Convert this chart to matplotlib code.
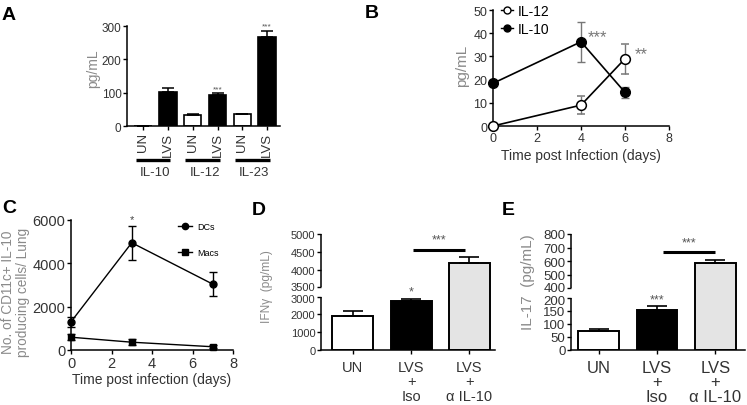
import numpy as np
import matplotlib
matplotlib.use('Agg')
import matplotlib.pyplot as plt
import matplotlib.transforms as mtransforms
from matplotlib.lines import Line2D

W, H = 747, 406

plt.rcParams.update({
    'font.family': ['Liberation Sans', 'DejaVu Sans'],
    'axes.linewidth': 1.1,
    'xtick.major.width': 1.0,
    'ytick.major.width': 1.0,
    'xtick.major.size': 3,
    'ytick.major.size': 3,
    'xtick.major.pad': 1.5,
    'ytick.major.pad': 1.0,
    'xtick.labelcolor': '#333333',
    'ytick.labelcolor': '#333333',
    'axes.labelcolor': '#333333',
})

GRAY = '#8a8a8a'

# ── Data ──
# A: cytokines in supernatant
a_ticks = ['UN', 'LVS', 'UN', 'LVS', 'UN', 'LVS']
a_groups = ['IL-10', 'IL-12', 'IL-23']
a_vals = [0, 103, 33, 94, 35, 266]
a_err = [0, 10, 2, 4, 2, 20]

# B: time course
b_days = [0, 4, 6]
b_il12 = [0, 9, 29]
b_il12_err = [0, 3.8, 6.5]
b_il10 = [18.4, 36.3, 14.5]
b_il10_err = [0, 8.6, 2.3]

# C: IL-10 producing cells
c_days = [0, 3, 7]
c_dcs = [1300, 4950, 3040]
c_dcs_err = [230, 780, 570]
c_macs = [590, 360, 150]
c_macs_err = [150, 130, 70]

# D / E: anti IL-10 treatment
de_labels = ['UN', 'LVS\n+\nIso', 'LVS\n+\n\u03b1 IL-10']
d_vals = [1930, 2740, 4175]
d_err = [245, 110, 170]
e_vals = [72, 154, 589]
e_err = [9, 13, 19]
bar_colors = ['white', 'black', '#e4e4e4']

fig = plt.figure(figsize=(W / 100, H / 100), dpi=100)


def add_ax(x0, ytop, x1, ybot):
    ax = fig.add_axes([x0 / W, 1 - ybot / H, (x1 - x0) / W, (ybot - ytop) / H])
    ax.spines['top'].set_visible(False)
    ax.spines['right'].set_visible(False)
    return ax


def ftext(x, y, s, **kw):
    fig.text(x / W, 1 - y / H, s, **kw)


# ── Panel A ──
axA = add_ax(127, 27, 280, 127)
xa = np.arange(len(a_vals))
axA.bar(xa, a_vals, width=0.7, color=['white', 'black'] * 3,
        edgecolor='black', linewidth=1.2)
axA.errorbar(xa, a_vals, yerr=[np.zeros(len(a_vals)), a_err], fmt='none',
             ecolor='black', elinewidth=1.1, capsize=4.4, capthick=1.1)
axA.set_xlim(-0.65, 5.52)
axA.set_ylim(0, 300)
axA.set_yticks([0, 100, 200, 300])
axA.tick_params(axis='y', labelsize=8.5)
axA.set_xticks(xa)
axA.set_xticklabels(a_ticks, rotation=90, fontsize=9.5)
tr = axA.get_xaxis_transform()
for i, g in enumerate(a_groups):
    axA.plot([2 * i - 0.3, 2 * i + 1.1], [-0.337, -0.337], transform=tr,
             color='black', lw=2.4, clip_on=False, solid_capstyle='butt')
    axA.text(2 * i + 0.48, -0.46, g, transform=tr, ha='center', va='center',
             fontsize=9.5, color='#333333')
for i in [3, 5]:
    axA.text(i, a_vals[i] + a_err[i] + 4, '***', ha='center', va='bottom',
             fontsize=6, color='#555555')
ftext(93, 69, 'pg/mL', rotation=90, ha='center', va='center',
      fontsize=10, color=GRAY)
ftext(2, 20, 'A', fontsize=14, fontweight='bold', va='baseline')

# ── Panel B ──
axB = add_ax(493, 11, 669, 127)
axB.errorbar(b_days, b_il12, yerr=b_il12_err, color='black', lw=1.2,
             marker='o', ms=7, mfc='white', mec='black', mew=1.1,
             ecolor='#777777', elinewidth=1.0, capsize=3.2, clip_on=False,
             zorder=3)
axB.errorbar(b_days, b_il10, yerr=b_il10_err, color='black', lw=1.2,
             marker='o', ms=7, mfc='black', mec='black',
             ecolor='#777777', elinewidth=1.0, capsize=3.2, clip_on=False,
             zorder=3)
axB.set_xlim(0, 8)
axB.set_ylim(0, 50)
axB.set_xticks([0, 2, 4, 6, 8])
axB.set_yticks([0, 10, 20, 30, 40, 50])
axB.tick_params(labelsize=9)
axB.text(4.3, 38.5, '***', fontsize=12, color='#777777', va='center')
axB.text(6.42, 31, '**', fontsize=12, color='#777777', va='center')
hB = [Line2D([], [], color='black', lw=1.0, marker='o', ms=5, mfc='white',
             mec='black'),
      Line2D([], [], color='black', lw=1.0, marker='o', ms=5, mfc='black')]
axB.legend(hB, ['IL-12', 'IL-10'], loc='upper left', bbox_to_anchor=(0.045, 1.055),
           frameon=False, fontsize=10, handlelength=0.9, handletextpad=0.3,
           labelspacing=0.3, borderaxespad=0, borderpad=0)
axB.set_xlabel('Time post Infection (days)', fontsize=10, labelpad=3)
ftext(462, 66, 'pg/mL', rotation=90, ha='center', va='center',
      fontsize=11, color=GRAY)
ftext(365, 18, 'B', fontsize=14, fontweight='bold', va='baseline')

# ── Panel C ──
axC = add_ax(71, 221, 233, 351)
axC.errorbar(c_days, c_dcs, yerr=c_dcs_err, color='black', lw=1.0,
             marker='o', ms=5, ecolor='black', elinewidth=1.0, capsize=3,
             clip_on=False, zorder=3)
axC.errorbar(c_days, c_macs, yerr=c_macs_err, color='black', lw=1.0,
             marker='s', ms=5, ecolor='black', elinewidth=1.0, capsize=3,
             clip_on=False, zorder=3)
axC.set_xlim(0, 8)
axC.set_ylim(0, 6000)
axC.set_xticks([0, 2, 4, 6, 8])
axC.set_yticks([0, 2000, 4000, 6000])
axC.tick_params(labelsize=10.5)
axC.text(3, 6050, '*', ha='center', va='center', fontsize=8, color='#444444')
hC = [Line2D([], [], color='black', lw=1.0, marker='o', ms=4.5),
      Line2D([], [], color='black', lw=1.0, marker='s', ms=4.5)]
axC.legend(hC, ['DCs', 'Macs'], loc='upper left', bbox_to_anchor=(0.66, 0.985),
           frameon=False, fontsize=6.5, handlelength=1.6, handletextpad=0.5,
           labelspacing=1.9, borderaxespad=0, borderpad=0)
axC.set_xlabel('Time post infection (days)', fontsize=10, labelpad=1)
ftext(15.5, 292, 'No. of CD11c+ IL-10\nproducing cells/ Lung', rotation=90,
      ha='center', va='center', fontsize=9.8, color=GRAY, linespacing=1.05)
ftext(2, 213, 'C', fontsize=14, fontweight='bold', va='baseline')


# ── Broken-axis bar panels (D, E) ──
def broken_bars(ax, vals, err, yb, pb, lo_top, hi_bot, hi_top, yticks):
    fwd = lambda y: np.interp(y, yb, pb)
    inv = lambda p: np.interp(p, pb, yb)
    ax.set_yscale('function', functions=(fwd, inv))
    x = np.arange(len(vals))
    ax.bar(x, vals, width=0.7, color=bar_colors, edgecolor='black',
           linewidth=1.4)
    ax.errorbar(x, vals, yerr=[np.zeros(len(vals)), err], fmt='none',
                ecolor='black', elinewidth=1.2, capsize=7.5, capthick=1.2)
    ax.set_ylim(0, hi_top)
    ax.set_yticks(yticks)
    ax.set_xticks(x)
    ax.spines['left'].set_visible(False)
    yt = ax.get_yaxis_transform()
    for seg in [(0, lo_top), (hi_bot, hi_top)]:
        ax.plot([0, 0], seg, transform=yt, color='black', lw=1.1,
                clip_on=False, solid_capstyle='butt')
    # nudge the two labels either side of the break apart
    labels = ax.get_yticklabels()
    i_lo = list(yticks).index(lo_top)
    for idx, dy in [(i_lo, -1.2), (i_lo + 1, 1.2)]:
        off = mtransforms.ScaledTranslation(0, dy / 72, fig.dpi_scale_trans)
        labels[idx].set_transform(labels[idx].get_transform() + off)
    return x


axD = add_ax(321, 235, 495, 351)
broken_bars(axD, d_vals, d_err,
            [-3000, 0, 3000, 3500, 5000, 8000],
            [-53.3, 0, 53.3, 62.7, 116, 222.6],
            3000, 3500, 5000,
            [0, 1000, 2000, 3000, 3500, 4000, 4500, 5000])
axD.set_xlim(-0.547, 2.44)
axD.tick_params(axis='y', labelsize=8)
axD.tick_params(axis='x', labelsize=10.5, pad=4)
axD.set_xticklabels(de_labels, linespacing=1.05)
axD.plot([1.04, 1.93], [4550, 4550], color='black', lw=2.2,
         solid_capstyle='butt')
axD.text(1.485, 4860, '***', ha='center', va='center', fontsize=9,
         color='#555555')
axD.text(1, 3266, '*', ha='center', va='center', fontsize=9, color='#555555')
ftext(267, 287, 'IFN\u03b3  (pg/mL)', rotation=90, ha='center', va='center',
      fontsize=8.6, color=GRAY)
ftext(252, 215, 'D', fontsize=14, fontweight='bold', va='baseline')

axE = add_ax(571, 235, 745, 351)
broken_bars(axE, e_vals, e_err,
            [-200, 0, 200, 400, 800, 1200],
            [-52.3, 0, 52.3, 61.7, 116, 170.3],
            200, 400, 800,
            [0, 50, 100, 150, 200, 400, 500, 600, 700, 800])
axE.set_xlim(-0.475, 2.51)
axE.tick_params(axis='y', labelsize=9.5)
axE.tick_params(axis='x', labelsize=12, pad=4)
axE.set_xticklabels(de_labels, linespacing=0.95)
axE.plot([1.10, 2.0], [665, 665], color='black', lw=2.2,
         solid_capstyle='butt')
axE.text(1.55, 741, '***', ha='center', va='center', fontsize=9,
         color='#555555')
axE.text(1, 195, '***', ha='center', va='center', fontsize=9, color='#555555')
ftext(528, 282, 'IL-17  (pg/mL)', rotation=90, ha='center', va='center',
      fontsize=11, color=GRAY)
ftext(502, 215, 'E', fontsize=14, fontweight='bold', va='baseline')

fig.savefig('out.png', dpi=100)
